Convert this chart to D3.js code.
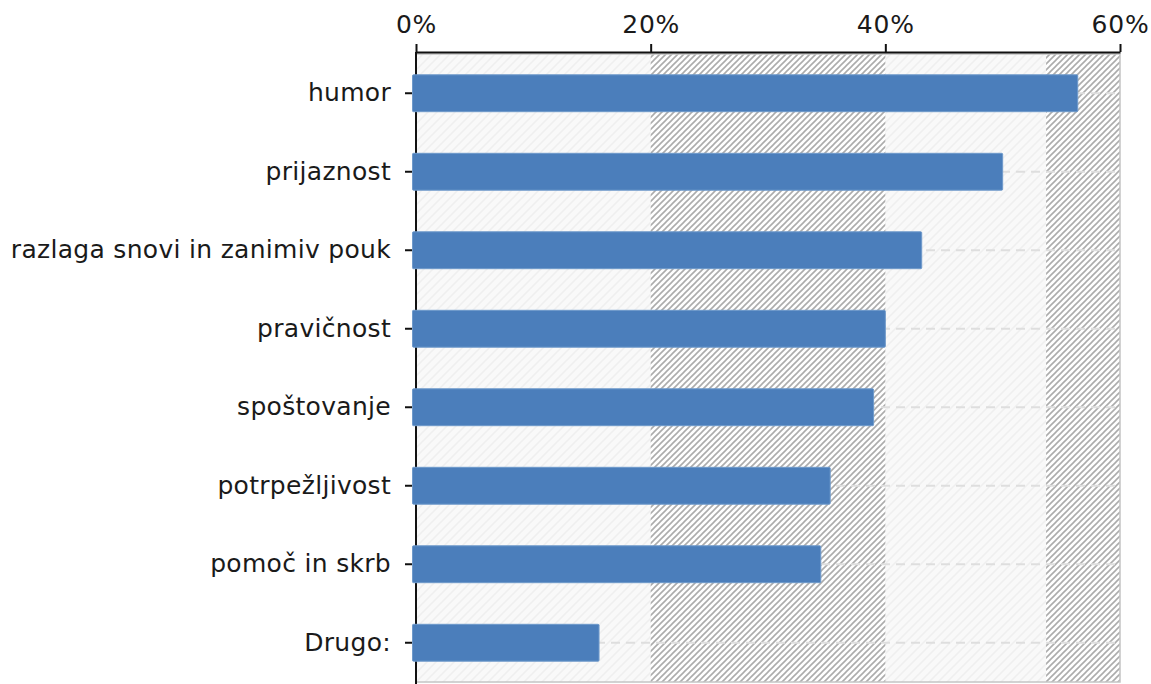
<!DOCTYPE html>
<html>
<head>
<meta charset="utf-8">
<script src="https://cdn.jsdelivr.net/npm/d3@7"></script>
<style>
  body { margin: 0; background: #fff; }
  text { font-family: "DejaVu Sans", Verdana, sans-serif; fill: #1a1a1a; }
</style>
</head>
<body>
<div class="viz"></div>
<script>
const categories = ['humor', 'prijaznost', 'razlaga snovi in zanimiv pouk', 'pravičnost',
  'spoštovanje', 'potrpežljivost', 'pomoč in skrb', 'Drugo:'];
const values = [56.4, 50.0, 43.1, 40.0, 39.0, 35.3, 34.5, 15.6];
const xTicks = [0, 20, 40, 60];
// shaded (dense hatch) bands behind the bars, in percent
const bands = [[20, 40], [53.7, 60]];

const W = 1151, H = 684;
const plotLeft = 416, plotRight = 1120, axisY = 52, plotTop = 54, plotBottom = 682;

const svg = d3.select('.viz').append('svg')
  .attr('width', W).attr('height', H);

const defs = svg.append('defs');
const light = defs.append('pattern')
  .attr('id', 'light').attr('patternUnits', 'userSpaceOnUse')
  .attr('width', 9).attr('height', 9);
light.append('rect').attr('width', 9).attr('height', 9).attr('fill', '#f9f9f9');
light.append('path').attr('d', 'M-1,1 l2,-2 M0,9 l9,-9 M8,10 l2,-2')
  .attr('stroke', '#efefef').attr('stroke-width', 1.5);

const dense = defs.append('pattern')
  .attr('id', 'dense').attr('patternUnits', 'userSpaceOnUse')
  .attr('width', 6).attr('height', 6);
dense.append('rect').attr('width', 6).attr('height', 6).attr('fill', '#fff');
dense.append('path').attr('d', 'M-1,1 l2,-2 M0,6 l6,-6 M5,7 l2,-2')
  .attr('stroke', '#acacac').attr('stroke-width', 1.6);

const x = d3.scaleLinear().domain([0, 60]).range([plotLeft, plotRight]);
const y = d3.scaleBand().domain(categories).range([plotTop, plotBottom])
  .paddingInner(0.53).paddingOuter(0.265);

// plot background
svg.append('rect')
  .attr('x', plotLeft).attr('y', plotTop)
  .attr('width', plotRight - plotLeft).attr('height', plotBottom - plotTop)
  .attr('fill', 'url(#light)');

svg.selectAll('.band').data(bands).enter().append('rect')
  .attr('class', 'band')
  .attr('x', d => x(d[0])).attr('y', plotTop)
  .attr('width', d => x(d[1]) - x(d[0]))
  .attr('height', plotBottom - plotTop)
  .attr('fill', 'url(#dense)');

svg.append('rect')
  .attr('x', plotLeft).attr('y', plotTop)
  .attr('width', plotRight - plotLeft).attr('height', plotBottom - plotTop)
  .attr('fill', 'none').attr('stroke', '#c4c4c4').attr('stroke-width', 1.5);

// dashed gridlines at each category
svg.selectAll('.grid').data(categories).enter().append('line')
  .attr('class', 'grid')
  .attr('x1', plotLeft).attr('x2', plotRight - 2)
  .attr('y1', d => y(d) + y.bandwidth() / 2)
  .attr('y2', d => y(d) + y.bandwidth() / 2)
  .attr('stroke', '#dedede').attr('stroke-width', 2)
  .attr('stroke-dasharray', '9,6');

// top axis
const xAxis = svg.append('g')
  .attr('transform', 'translate(0,' + axisY + ')')
  .call(d3.axisTop(x).tickValues(xTicks).tickFormat(d => d + '%')
    .tickSize(8).tickSizeOuter(0).tickPadding(11));
xAxis.select('.domain').attr('stroke', '#111').attr('stroke-width', 2);
xAxis.selectAll('.tick line').attr('stroke', '#111').attr('stroke-width', 2);
xAxis.selectAll('text').attr('font-size', 25).attr('letter-spacing', 0.8)
  .attr('fill', '#1a1a1a');

// left axis line
svg.append('line')
  .attr('x1', plotLeft).attr('x2', plotLeft)
  .attr('y1', axisY).attr('y2', H)
  .attr('stroke', '#111').attr('stroke-width', 2);

const yAxis = svg.append('g')
  .attr('transform', 'translate(' + (plotLeft - 4) + ',0)')
  .call(d3.axisLeft(y).tickSize(7).tickSizeOuter(0).tickPadding(14));
yAxis.select('.domain').remove();
yAxis.selectAll('.tick line').attr('stroke', '#111').attr('stroke-width', 2);
yAxis.selectAll('text').attr('font-size', 25).attr('letter-spacing', 0.3)
  .attr('fill', '#1a1a1a');

// bars
svg.selectAll('.bar').data(values).enter().append('rect')
  .attr('class', 'bar')
  .attr('x', x(0) - 3.5)
  .attr('y', (d, i) => y(categories[i]))
  .attr('width', d => x(d) - x(0) + 3.5)
  .attr('height', y.bandwidth())
  .attr('rx', 1)
  .attr('fill', '#4b7ebb')
  .attr('stroke', '#6f9acb').attr('stroke-width', 1);
</script>
</body>
</html>
